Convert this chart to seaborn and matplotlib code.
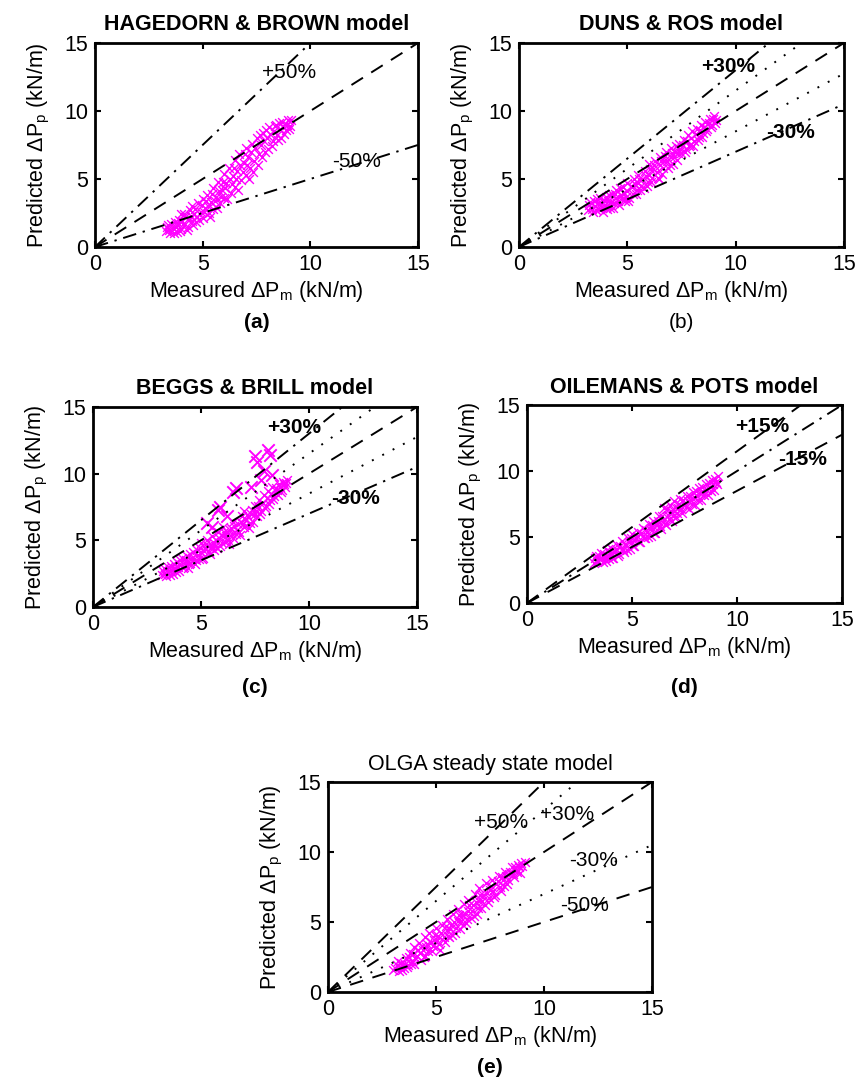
import matplotlib
matplotlib.use("Agg")
import matplotlib.pyplot as plt
import seaborn as sns
import pandas as pd

sns.set_theme(style="ticks")
plt.rcParams['font.family'] = ['Liberation Sans', 'DejaVu Sans']
plt.rcParams['mathtext.fontset'] = 'custom'
plt.rcParams['mathtext.rm'] = 'Liberation Sans'
plt.rcParams['mathtext.it'] = 'Liberation Sans'
for k in ['text.color', 'axes.labelcolor', 'xtick.color', 'ytick.color', 'axes.edgecolor']:
    plt.rcParams[k] = 'black'

# ---------------- data ----------------
ticks = [0, 5, 10, 15]
ref_x = [0, 15]

a_meas = [3.3,3.4,3.5,3.6,3.7,3.8,3.9,4.0,4.0,4.1,4.2,4.3,4.4,4.5,4.5,4.6,4.7,4.8,4.9,5.0,5.0,5.1,5.2,5.3,5.4,5.5,5.5,5.6,5.7,5.8,5.9,6.0,6.0,6.1,6.2,6.3,6.4,6.5,6.5,6.6,6.7,6.8,6.9,7.0,7.0,7.1,7.2,7.3,7.4,7.5,7.6,7.7,7.8,7.9,8.0,8.1,8.2,8.3,8.4,8.5,8.6,8.7,8.8,8.9,9.0,9.1]
a_pred = [1.2,1.6,1.0,1.4,1.8,1.1,2.0,1.3,2.4,1.7,2.2,1.5,2.7,1.9,3.0,2.4,1.8,3.2,2.6,2.1,3.5,2.9,3.8,2.5,3.3,4.3,2.8,3.7,4.8,3.2,4.2,5.4,3.6,4.7,5.8,4.0,5.2,6.4,4.4,5.6,6.8,4.9,6.2,7.3,5.3,6.6,5.8,7.6,6.3,8.0,6.8,7.5,8.4,7.0,8.0,8.8,7.4,8.5,9.0,7.9,8.7,9.2,8.3,9.0,8.7,9.3]
a_meas2 = [3.35,3.45,3.55,3.65,3.75,3.85,3.95,4.05,4.15,4.25,4.35,4.45,4.55,4.65,4.75,4.85,4.95,5.05,5.15,5.25,5.35,5.45,5.55,5.65,5.75,5.85,5.95,6.05,6.15,6.25,6.35,6.45,6.55,6.65,6.75,6.85,6.95,7.05,7.15,7.25,7.35,7.45,7.55,7.65,7.75,7.85,7.95,8.05,8.15,8.25,8.35,8.45,8.55,8.65,8.75,8.85,8.95,9.05]
a_pred2 = [1.5,1.25,1.7,1.05,1.45,1.75,1.2,1.9,2.4,1.25,2.0,2.3,1.6,2.8,2.2,2.0,3.1,2.6,3.4,3.0,2.2,3.9,3.4,2.9,4.1,3.7,4.8,4.3,3.5,5.0,4.6,5.8,5.0,4.2,6.0,5.5,6.8,6.0,5.0,7.0,5.5,7.3,6.0,8.2,6.6,7.8,8.6,7.2,8.3,7.8,8.9,8.2,9.1,8.0,8.9,8.6,9.3,8.9]

b_meas = [3.2,3.3,3.4,3.5,3.6,3.7,3.8,3.9,4.0,4.0,4.1,4.2,4.3,4.4,4.5,4.5,4.6,4.7,4.8,4.9,5.0,5.0,5.1,5.2,5.3,5.4,5.5,5.5,5.6,5.7,5.8,5.9,6.0,6.0,6.1,6.2,6.3,6.4,6.5,6.5,6.6,6.7,6.8,6.9,7.0,7.0,7.1,7.2,7.3,7.4,7.5,7.6,7.7,7.8,7.9,8.0,8.1,8.2,8.3,8.4,8.5,8.6,8.7,8.8,8.9,9.0,9.1]
b_pred = [2.7,3.3,2.6,3.0,3.5,2.8,3.2,2.6,3.7,3.0,3.4,2.9,3.9,3.2,3.6,4.2,3.1,3.8,4.4,3.4,4.1,4.7,3.6,4.4,5.0,3.9,4.7,5.3,4.2,5.0,5.6,4.5,5.3,6.1,4.8,5.7,6.3,5.1,6.0,6.6,5.4,6.3,7.0,5.8,6.6,7.3,6.1,7.0,6.4,7.6,6.9,7.9,7.2,8.2,7.5,8.5,7.8,8.7,8.1,9.0,8.4,9.2,8.7,9.4,9.0,9.6,9.3]
b_meas2 = [3.25,3.35,3.45,3.55,3.65,3.75,3.85,3.95,4.05,4.15,4.25,4.35,4.45,4.55,4.65,4.75,4.85,4.95,5.05,5.15,5.25,5.35,5.45,5.55,5.65,5.75,5.85,5.95,6.05,6.15,6.25,6.35,6.45,6.55,6.65,6.75,6.85,6.95,7.05,7.15,7.25,7.35,7.45,7.55,7.65,7.75,7.85,7.95,8.05,8.15,8.25,8.35,8.45,8.55,8.65,8.75,8.85,8.95,9.05]
b_pred2 = [3.1,2.8,3.4,2.7,3.2,3.6,2.9,3.4,2.8,3.8,3.3,2.9,3.9,3.4,4.3,3.5,4.0,3.7,3.4,4.5,3.9,4.6,4.2,5.0,4.5,4.3,5.2,4.8,5.7,5.1,6.0,5.5,5.0,6.3,5.8,6.7,6.3,6.0,6.9,6.6,7.4,6.9,7.2,7.5,7.0,7.8,7.4,8.0,7.4,8.3,7.9,8.6,8.1,8.8,8.5,9.1,8.8,9.4,9.1]

c_meas = [3.2,3.3,3.4,3.5,3.6,3.7,3.8,3.9,4.0,4.0,4.1,4.2,4.3,4.4,4.5,4.5,4.6,4.7,4.8,4.9,5.0,5.0,5.1,5.2,5.3,5.4,5.5,5.5,5.6,5.7,5.8,5.9,6.0,6.0,6.1,6.2,6.3,6.4,6.5,6.5,6.6,6.7,6.8,6.9,7.0,7.0,7.1,7.2,7.3,7.4,7.5,7.6,7.7,7.8,7.9,8.0,8.1,8.2,8.3,8.4,8.5,8.6,8.7,8.8,8.9,9.0]
c_pred = [2.4,2.9,2.3,2.7,3.1,2.5,2.9,3.4,2.7,3.2,3.7,3.0,3.5,2.9,4.0,3.3,3.7,3.2,4.3,3.6,4.1,4.8,3.7,4.4,5.0,4.0,4.6,5.3,4.3,5.0,5.6,4.6,5.3,6.0,4.9,5.6,4.7,5.9,5.2,6.4,5.5,6.2,5.4,6.8,6.0,7.2,6.5,5.9,7.0,6.4,7.6,6.8,8.0,7.2,8.4,7.6,8.7,8.0,9.0,8.3,8.8,9.2,8.6,9.4,9.0,9.5]
c_meas2 = [3.25,3.35,3.45,3.55,3.65,3.75,3.85,3.95,4.05,4.15,4.25,4.35,4.45,4.55,4.65,4.75,4.85,4.95,5.05,5.15,5.25,5.35,5.45,5.55,5.65,5.75,5.85,5.95,6.05,6.15,6.25,6.35,6.45,6.55,6.65,6.75,6.85,6.95,7.05,7.15,7.25,7.35,7.45,7.55,7.65,7.75,7.85,7.95,8.05,8.15,8.25,8.35,8.45,8.55,8.65,8.75,8.85,8.95]
c_pred2 = [2.7,2.5,3.0,2.4,2.8,3.2,2.6,3.0,3.5,2.9,3.3,3.8,3.2,3.6,4.1,3.5,3.9,4.4,3.6,4.2,4.7,4.1,4.4,4.9,4.6,4.4,5.2,4.8,5.6,5.3,5.0,5.8,5.5,6.1,5.8,5.6,6.4,6.2,6.6,6.9,6.3,7.3,6.9,7.2,7.6,7.0,7.8,7.4,8.2,7.7,8.5,8.1,8.9,8.4,9.0,8.8,9.2,9.3]
c_out_meas = [7.5,7.6,8.1,8.2,7.9,8.3,7.8,6.6,6.5,5.9,5.8,5.3,5.5,6.2,7.3]
c_out_pred = [11.3,10.9,11.8,11.4,10.2,9.9,9.5,8.9,8.6,7.5,7.3,6.3,6.0,6.8,9.0]

d_meas = [3.2,3.3,3.4,3.5,3.6,3.7,3.8,3.9,4.0,4.0,4.1,4.2,4.3,4.4,4.5,4.5,4.6,4.7,4.8,4.9,5.0,5.0,5.1,5.2,5.3,5.4,5.5,5.5,5.6,5.7,5.8,5.9,6.0,6.0,6.1,6.2,6.3,6.4,6.5,6.5,6.6,6.7,6.8,6.9,7.0,7.0,7.1,7.2,7.3,7.4,7.5,7.6,7.7,7.8,7.9,8.0,8.1,8.2,8.3,8.4,8.5,8.6,8.7,8.8,8.9,9.0,9.1]
d_pred = [3.0,3.6,3.2,3.8,3.1,3.5,4.0,3.3,3.7,4.2,3.4,3.9,4.4,3.7,4.1,4.7,3.9,4.4,4.9,4.1,4.6,5.2,4.3,4.9,5.4,4.6,5.1,5.7,4.9,5.4,6.0,5.1,5.6,6.2,5.3,5.9,6.6,5.6,6.3,7.2,5.9,6.7,7.4,6.2,7.0,7.7,6.5,7.2,7.9,6.8,7.5,8.1,7.1,7.8,8.4,7.4,8.1,8.7,7.8,8.4,9.0,8.2,8.8,9.3,8.6,9.2,9.6]
d_meas2 = [3.25,3.35,3.45,3.55,3.65,3.75,3.85,3.95,4.05,4.15,4.25,4.35,4.45,4.55,4.65,4.75,4.85,4.95,5.05,5.15,5.25,5.35,5.45,5.55,5.65,5.75,5.85,5.95,6.05,6.15,6.25,6.35,6.45,6.55,6.65,6.75,6.85,6.95,7.05,7.15,7.25,7.35,7.45,7.55,7.65,7.75,7.85,7.95,8.05,8.15,8.25,8.35,8.45,8.55,8.65,8.75,8.85,8.95,9.05]
d_pred2 = [3.4,3.1,3.6,3.4,3.7,3.2,3.6,3.9,3.4,3.9,4.1,3.6,4.3,4.0,4.5,4.0,4.6,4.9,4.3,4.8,5.1,4.6,5.3,4.9,5.5,5.0,5.6,5.9,5.3,5.9,6.2,5.8,6.6,6.0,7.1,6.4,7.0,6.6,7.3,6.8,7.5,7.1,7.8,7.3,7.7,8.1,7.5,8.0,8.5,7.8,8.3,8.8,8.2,8.6,9.1,8.5,9.0,9.4,9.0]

e_meas = [3.0,3.2,3.3,3.4,3.5,3.6,3.7,3.8,3.9,4.0,4.0,4.1,4.2,4.3,4.4,4.5,4.5,4.6,4.7,4.8,4.9,5.0,5.0,5.1,5.2,5.3,5.4,5.5,5.5,5.6,5.7,5.8,5.9,6.0,6.0,6.1,6.2,6.3,6.4,6.5,6.5,6.6,6.7,6.8,6.9,7.0,7.0,7.1,7.2,7.3,7.4,7.5,7.6,7.7,7.8,7.9,8.0,8.1,8.2,8.3,8.4,8.5,8.6,8.7,8.8,8.9,9.0,9.1]
e_pred = [1.6,1.9,1.5,2.1,1.7,2.4,1.9,2.8,2.2,3.2,2.0,2.6,3.5,2.3,3.0,3.9,2.6,3.4,4.2,2.9,3.7,4.6,3.2,4.0,3.0,4.8,3.6,4.4,5.2,3.9,4.8,5.6,4.2,5.1,5.9,4.5,5.5,6.3,4.9,5.8,6.6,5.3,6.2,7.0,5.6,6.5,7.4,6.0,6.9,7.8,6.4,7.3,8.0,6.8,7.7,8.3,7.2,8.0,8.6,7.7,8.4,8.9,8.2,8.7,9.1,8.5,9.0,9.3]
e_meas2 = [3.1,3.25,3.35,3.45,3.55,3.65,3.75,3.85,3.95,4.05,4.15,4.25,4.35,4.45,4.55,4.65,4.75,4.85,4.95,5.05,5.15,5.25,5.35,5.45,5.55,5.65,5.75,5.85,5.95,6.05,6.15,6.25,6.35,6.45,6.55,6.65,6.75,6.85,6.95,7.05,7.15,7.25,7.35,7.45,7.55,7.65,7.75,7.85,7.95,8.05,8.15,8.25,8.35,8.45,8.55,8.65,8.75,8.85,8.95]
e_pred2 = [1.7,2.2,1.8,1.6,2.0,1.8,2.5,2.0,2.7,2.4,3.0,2.8,3.3,2.5,3.2,2.9,3.6,3.3,4.1,3.7,3.4,4.2,3.9,4.7,4.0,4.5,4.1,5.0,4.6,5.5,5.1,4.8,5.6,5.2,6.2,5.8,5.4,6.4,6.0,6.9,6.5,6.2,7.1,6.7,7.6,7.2,6.9,7.9,7.5,8.2,7.6,8.3,8.0,8.6,8.4,8.9,8.6,8.9,9.2]

titles = ["HAGEDORN & BROWN model", "DUNS & ROS model", "BEGGS & BRILL model",
          "OILEMANS & POTS model", "OLGA steady state model"]
panel_tags = ["(a)", "(b)", "(c)", "(d)", "(e)"]

DASH = (0, (7, 5))
DASHDOT = (0, (7, 3.5, 1.2, 3.5))
DOT = (0, (1, 5))

bands = [
    [(1.0, DASH), (1.5, DASHDOT), (0.5, DASHDOT)],
    [(1.0, DASH), (1.3, DASHDOT), (0.7, DASHDOT), (1.15, DOT), (0.85, DOT)],
    [(1.0, DASH), (1.3, DASHDOT), (0.7, DASHDOT), (1.15, DOT), (0.85, DOT)],
    [(1.0, DASHDOT), (1.15, DASH), (0.85, DASH)],
    [(1.0, DASH), (1.5, DASH), (0.5, DASH), (1.3, DOT), (0.7, DOT)],
]

labels = [
    [("+50%", 9.0, 12.8), ("-50%", 12.15, 6.3)],
    [("+30%", 9.65, 13.3), ("-30%", 12.55, 8.4)],
    [("+30%", 9.3, 13.45), ("-30%", 12.15, 8.1)],
    [("+15%", 11.2, 13.4), ("-15%", 13.1, 10.9)],
    [("+50%", 8.0, 12.1), ("+30%", 11.05, 12.7), ("-30%", 12.3, 9.4), ("-50%", 11.9, 6.2)],
]

title_weights = ["bold", "bold", "semibold", "bold", "normal"]

data = [(a_meas + a_meas2, a_pred + a_pred2), (b_meas + b_meas2, b_pred + b_pred2),
        (c_meas + c_meas2, c_pred + c_pred2), (d_meas + d_meas2, d_pred + d_pred2),
        (e_meas + e_meas2, e_pred + e_pred2)]

rects = [
    [0.1111, 0.7724, 0.3778, 0.188],
    [0.6070, 0.7724, 0.3801, 0.188],
    [0.1088, 0.4406, 0.3789, 0.1843],
    [0.6164, 0.4442, 0.3684, 0.1825],
    [0.3836, 0.0857, 0.3789, 0.1935],
]
tag_y = [0.703, 0.703, 0.366, 0.366, 0.016]

fig = plt.figure(figsize=(8.55, 10.85), dpi=100)
MAG = "#ff00ff"

for i in range(5):
    ax = fig.add_axes(rects[i])
    for slope, ls in bands[i]:
        ax.plot(ref_x, [slope * v for v in ref_x], color="black", lw=1.4, linestyle=ls, zorder=3)
    df = pd.DataFrame({"meas": data[i][0], "pred": data[i][1]})
    sns.scatterplot(data=df, x="meas", y="pred", ax=ax, marker="x", color=MAG,
                    s=40, linewidth=1.0, zorder=2)
    if i == 2:
        dfo = pd.DataFrame({"meas": c_out_meas, "pred": c_out_pred})
        sns.scatterplot(data=dfo, x="meas", y="pred", ax=ax, marker="x", color=MAG,
                        s=80, linewidth=1.4, zorder=2)
    for txt, tx, ty in labels[i]:
        ax.text(tx, ty, txt, ha="center", va="center", fontsize=15,
                fontweight="bold" if i in (1, 2, 3) else "normal", zorder=4)
    ax.set_xlim(0, 15)
    ax.set_ylim(0, 15)
    ax.set_xticks(ticks)
    ax.set_yticks(ticks)
    ax.tick_params(direction="in", top=True, right=True, length=4, width=1.5,
                   labelsize=15.5, pad=5)
    for sp in ax.spines.values():
        sp.set_linewidth(2.0)
        sp.set_color("black")
    ax.set_xlabel(r"Measured $\Delta$P$_{\rm m}$ (kN/m)", fontsize=15.5, labelpad=3)
    ax.set_ylabel(r"Predicted $\Delta$P$_{\rm p}$ (kN/m)", fontsize=15.5, labelpad=9)
    ax.set_title(titles[i], fontsize=15.5, fontweight=title_weights[i], pad=9)
    cx = rects[i][0] + rects[i][2] / 2
    fig.text(cx, tag_y[i], panel_tags[i], ha="center", va="center", fontsize=15,
             fontweight="bold" if i in (0, 2, 3, 4) else "normal")

fig.savefig("out.png", dpi=100)
